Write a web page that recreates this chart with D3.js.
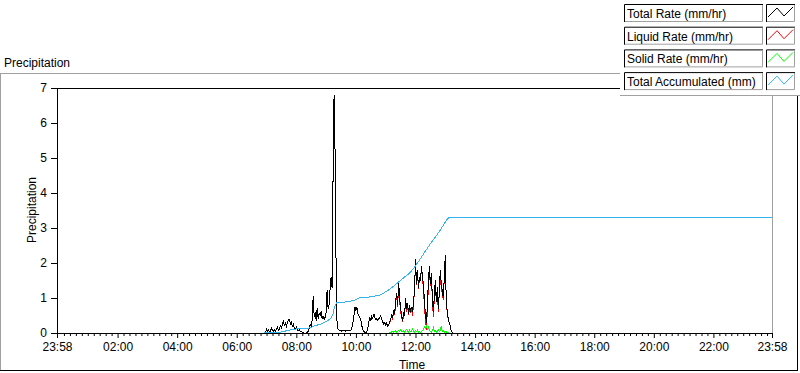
<!DOCTYPE html>
<html>
<head>
<meta charset="utf-8">
<script src="https://cdn.jsdelivr.net/npm/d3@7"></script>
<style>
  body { margin: 0; background: #fff; }
  svg text { font-family: "Liberation Sans", Arial, sans-serif; font-size: 12px; fill: #000; }
</style>
</head>
<body>
<svg id="chart" width="800" height="373"></svg>
<script>
// legend entries and plot colours
const seriesNames = ["Total Rate (mm/hr)", "Liquid Rate (mm/hr)", "Solid Rate (mm/hr)", "Total Accumulated (mm)"];
const seriesColors = ["#000000", "#ff0000", "#00ff00", "#33b4f0"];

// rate series are sampled every 2 minutes starting 06:56
const rateStart = "06:56";
const rateStepMin = 2;

const totalRate = [
  0, 0, 0.11, 0.05, 0.08, 0.04, 0.06, 0.14, 0.07, 0.05,
  0.09, 0.06, 0.1, 0.17, 0.08, 0.12, 0.2, 0.15, 0.25, 0.33,
  0.22, 0.28, 0.18, 0.3, 0.37, 0.38, 0.26, 0.3, 0.2, 0.25,
  0.15, 0.12, 0.16, 0.08, 0.06, 0.09, 0.05, 0.04, 0.02, 0.01,
  0, 0, 0, 0.02, 0.05, 0.12, 0.25, 0.18, 0.4, 1.06,
  0.45, 0.6, 0.35, 0.7, 0.4, 0.55, 0.5, 0.62, 0.4, 0.48,
  0.38, 0.45, 0.6, 1.23, 0.7, 0.8, 1.25, 1.6, 1.3, 4.5,
  6.8, 5.2, 2.0, 0.3, 0.12, 0.08, 0.06, 0.07, 0.05, 0.08,
  0.06, 0.07, 0.05, 0.08, 0.06, 0.07, 0.09, 0.08, 0.15, 0.3,
  0.5, 0.74, 0.65, 0.72, 0.55, 0.5, 0.45, 0.35, 0.2, 0.1,
  0.05, 0.02, 0, 0.04, 0.15, 0.3, 0.45, 0.35, 0.48, 0.42,
  0.55, 0.45, 0.38, 0.42, 0.35, 0.4, 0.45, 0.5, 0.38, 0.32,
  0.25, 0.3, 0.22, 0.28, 0.2, 0.25, 0.3, 0.4, 0.5, 0.45,
  0.65, 0.55, 0.9, 1.14, 0.8, 1.45, 1.0, 0.7, 0.5, 0.35,
  0.6, 0.5, 1.0, 0.7, 0.85, 0.55, 0.8, 0.6, 0.75, 0.6,
  0.9, 1.2, 2.1, 1.4, 1.8, 1.3, 1.6, 1.5, 1.9, 1.6,
  1.4, 0.9, 0.55, 0.3, 0.8, 1.5, 1.9, 1.4, 1.7, 1.0,
  0.6, 1.1, 1.5, 0.9, 1.3, 0.7, 1.2, 1.8, 1.4, 1.2,
  1.0, 1.6, 2.23, 0.9, 0.6, 0.4, 0.3, 0.2, 0.05, 0.02,
  0, 0, 0, 0, 0, 0
];

const liquidRate = [
  0, 0, 0.11, 0.05, 0.08, 0.04, 0.06, 0.14, 0.07, 0.05,
  0.09, 0.06, 0.1, 0.17, 0.08, 0.12, 0.2, 0.15, 0.25, 0.33,
  0.22, 0.28, 0.18, 0.3, 0.37, 0.38, 0.26, 0.3, 0.2, 0.25,
  0.15, 0.12, 0.16, 0.08, 0.06, 0.09, 0.05, 0.04, 0.02, 0.01,
  0, 0, 0, 0.02, 0.05, 0.12, 0.25, 0.18, 0.4, 1.06,
  0.45, 0.6, 0.35, 0.7, 0.4, 0.55, 0.5, 0.62, 0.4, 0.48,
  0.38, 0.45, 0.6, 1.23, 0.7, 0.8, 1.25, 1.6, 1.3, 4.5,
  6.8, 5.2, 2.0, 0.3, 0.12, 0.08, 0.06, 0.07, 0.05, 0.08,
  0.06, 0.07, 0.05, 0.08, 0.06, 0.07, 0.09, 0.08, 0.15, 0.3,
  0.5, 0.74, 0.65, 0.72, 0.55, 0.5, 0.45, 0.35, 0.2, 0.1,
  0.05, 0.02, 0, 0.04, 0.15, 0.3, 0.45, 0.35, 0.48, 0.42,
  0.55, 0.45, 0.38, 0.42, 0.35, 0.4, 0.45, 0.5, 0.38, 0.32,
  0.25, 0.3, 0.22, 0.28, 0.2, 0.25, 0.28, 0.4, 0.47, 0.4,
  0.63, 0.51, 0.84, 1.11, 0.75, 1.37, 0.96, 0.6, 0.45, 0.32,
  0.54, 0.48, 0.93, 0.6, 0.8, 0.52, 0.72, 0.56, 0.69, 0.48,
  0.85, 1.17, 2.03, 1.36, 1.72, 1.27, 1.55, 1.48, 1.86, 1.54,
  1.3, 0.72, 0.4, 0.1, 0.68, 1.33, 1.82, 1.35, 1.67, 0.93,
  0.45, 1.06, 1.44, 0.88, 1.25, 0.6, 1.17, 1.74, 1.2, 1.16,
  0.93, 1.58, 2.18, 0.87, 0.58, 0.39, 0.3, 0.2, 0.05, 0.02,
  0, 0, 0, 0, 0, 0
];

const solidRate = [
  0, 0, 0, 0, 0, 0, 0, 0, 0, 0,
  0, 0, 0, 0, 0, 0, 0, 0, 0, 0,
  0, 0, 0, 0, 0, 0, 0, 0, 0, 0,
  0, 0, 0, 0, 0, 0, 0, 0, 0, 0,
  0, 0, 0, 0, 0, 0, 0, 0, 0, 0,
  0, 0, 0, 0, 0, 0, 0, 0, 0, 0,
  0, 0, 0, 0, 0, 0, 0, 0, 0, 0,
  0, 0, 0, 0, 0, 0, 0, 0, 0, 0,
  0, 0, 0, 0, 0, 0, 0, 0, 0, 0,
  0, 0, 0, 0, 0, 0, 0, 0, 0, 0,
  0, 0, 0, 0, 0, 0, 0, 0, 0, 0,
  0, 0, 0, 0, 0, 0, 0, 0, 0, 0,
  0, 0, 0, 0, 0, 0, 0.02, 0, 0.03, 0.05,
  0.02, 0.04, 0.06, 0.03, 0.05, 0.08, 0.04, 0.1, 0.05, 0.03,
  0.06, 0.02, 0.07, 0.1, 0.05, 0.03, 0.08, 0.04, 0.06, 0.12,
  0.05, 0.03, 0.07, 0.04, 0.08, 0.03, 0.05, 0.02, 0.04, 0.06,
  0.1, 0.18, 0.15, 0.2, 0.12, 0.17, 0.08, 0.05, 0.03, 0.07,
  0.15, 0.04, 0.06, 0.02, 0.05, 0.1, 0.03, 0.06, 0.2, 0.04,
  0.07, 0.02, 0.05, 0.03, 0.02, 0.01, 0, 0, 0, 0,
  0, 0, 0, 0, 0, 0
];

// accumulated total, read at irregular times
const accumTimes = ["06:55", "07:26", "07:36", "07:52", "08:02", "08:22", "08:30", "08:36", "08:50", "09:02",
  "09:09", "09:13", "09:17", "09:21", "09:27", "09:47", "09:57", "10:07", "10:27", "10:47",
  "10:57", "11:08", "11:18", "11:28", "11:38", "11:48", "11:58", "12:08", "12:18", "12:28",
  "12:38", "12:48", "12:58", "13:05", "13:13", "23:58"];
const accumValues = [0, 0.02, 0.05, 0.1, 0.12, 0.13, 0.16, 0.2, 0.26, 0.34,
  0.42, 0.5, 0.74, 0.86, 0.87, 0.9, 0.94, 1.0, 1.03, 1.08,
  1.15, 1.25, 1.36, 1.48, 1.6, 1.71, 1.88, 2.08, 2.3, 2.51,
  2.7, 2.9, 3.12, 3.28, 3.31, 3.31];

// axes: minutes from midnight, first tick is 23:58 of the previous day
const xTickMinutes = [-2, 120, 240, 360, 480, 600, 720, 840, 960, 1080, 1200, 1320, 1438];
const xTickLabels = ["23:58", "02:00", "04:00", "06:00", "08:00", "10:00", "12:00", "14:00", "16:00", "18:00", "20:00", "22:00", "23:58"];
const yTicks = [0, 1, 2, 3, 4, 5, 6, 7];

function toMin(s) { const p = s.split(":"); return +p[0] * 60 + +p[1]; }

const svg = d3.select("#chart");
const x = d3.scaleLinear().domain([-2, 1438]).range([57, 772]);
const y = d3.scaleLinear().domain([0, 7]).range([333, 88]);

// outer panel frame
svg.append("line").attr("x1", 0).attr("x2", 620).attr("y1", 73.5).attr("y2", 73.5).attr("stroke", "#a0a0a0");
svg.append("line").attr("x1", 0.5).attr("x2", 0.5).attr("y1", 73).attr("y2", 371).attr("stroke", "#a0a0a0");
svg.append("line").attr("x1", 0).attr("x2", 798).attr("y1", 370.5).attr("y2", 370.5).attr("stroke", "#000");
svg.append("line").attr("x1", 797.5).attr("x2", 797.5).attr("y1", 95).attr("y2", 371).attr("stroke", "#000");

svg.append("text").attr("x", 4).attr("y", 67).text("Precipitation");

// plot frame (top black, right gray)
svg.append("line").attr("x1", 57).attr("x2", 773).attr("y1", 88.5).attr("y2", 88.5).attr("stroke", "#000");
svg.append("line").attr("x1", 772.5).attr("x2", 772.5).attr("y1", 88).attr("y2", 334).attr("stroke", "#a0a0a0");

// data
const rateTimes = totalRate.map((d, i) => toMin(rateStart) + i * rateStepMin);
const line = d3.line().x(d => x(d[0])).y(d => y(d[1]));
const plots = [
  { vals: liquidRate.map((v, i) => [rateTimes[i], v]), color: seriesColors[1] },
  { vals: solidRate.map((v, i) => [rateTimes[i], v]), color: seriesColors[2] },
  { vals: totalRate.map((v, i) => [rateTimes[i], v]), color: seriesColors[0] },
  { vals: accumTimes.map((t, i) => [toMin(t), accumValues[i]]), color: seriesColors[3] }
];
svg.append("g").selectAll("path").data(plots).enter().append("path")
  .attr("d", d => line(d.vals))
  .attr("fill", "none")
  .attr("stroke", d => d.color)
  .attr("stroke-width", 1)
  .attr("shape-rendering", "crispEdges");

// x axis: major + minor ticks
const xMinor = d3.range(12, 1438, 12).filter(m => m % 120 !== 0);
svg.append("g").attr("transform", "translate(0,333)")
  .call(d3.axisBottom(x).tickValues(xMinor).tickFormat("").tickSize(3).tickSizeOuter(0))
  .call(g => g.select(".domain").remove());
const xAxis = svg.append("g").attr("transform", "translate(0,333)")
  .call(d3.axisBottom(x).tickValues(xTickMinutes).tickFormat((d, i) => xTickLabels[i]).tickSize(5).tickSizeOuter(0).tickPadding(4));
xAxis.attr("font-family", null).attr("font-size", null);

// y axis
const yAxis = svg.append("g").attr("transform", "translate(57,0)")
  .call(d3.axisLeft(y).tickValues(yTicks).tickFormat(d3.format("d")).tickSize(6).tickSizeOuter(0).tickPadding(4));
yAxis.attr("font-family", null).attr("font-size", null);

svg.append("text").attr("transform", "translate(32,210) rotate(-90)")
  .attr("text-anchor", "middle").attr("dominant-baseline", "central").text("Precipitation");
svg.append("text").attr("x", 412).attr("y", 369).attr("text-anchor", "middle").text("Time");

// legend
svg.append("rect").attr("x", 620).attr("y", 0).attr("width", 180).attr("height", 95).attr("fill", "#fff");
svg.append("line").attr("x1", 620).attr("x2", 800).attr("y1", 95.5).attr("y2", 95.5).attr("stroke", "#a0a0a0");
const leg = svg.append("g").selectAll("g").data(seriesNames).enter().append("g")
  .attr("transform", (d, i) => `translate(0,${4 + i * 22.7})`);
function sunken(g, x0, w, h) {
  g.append("rect").attr("x", x0).attr("y", 0).attr("width", w).attr("height", h).attr("fill", "#fff");
  g.append("path").attr("d", `M${x0 + 0.5},${h} V0.5 H${x0 + w}`).attr("fill", "none").attr("stroke", "#000");
  g.append("path").attr("d", `M${x0 + 1},${h - 0.5} H${x0 + w - 0.5} V1`).attr("fill", "none").attr("stroke", "#a0a0a0");
}
leg.each(function(d, i) {
  const g = d3.select(this);
  sunken(g, 624, 139, 18);
  sunken(g, 766, 29, 18);
  g.append("text").attr("x", 627).attr("y", 14).text(d);
  g.append("polyline").attr("points", "768,13 777,4 784,12 793,3")
    .attr("fill", "none").attr("stroke", seriesColors[i]);
});
</script>
</body>
</html>
